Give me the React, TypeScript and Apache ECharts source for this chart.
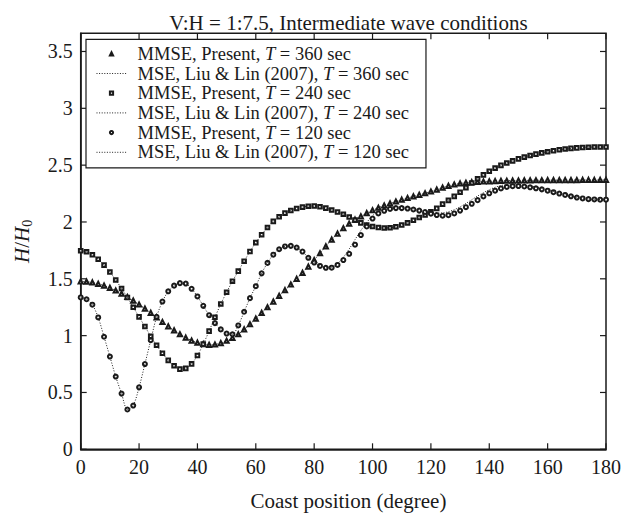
import React, { useEffect, useRef } from 'react';
import * as echarts from 'echarts';

// Coast position (degree) of each sample
const angles = [
  0, 2, 4, 6, 8, 10, 12, 14, 16, 18, 20, 22, 24, 26, 28, 30, 32, 34, 36, 38,
  40, 42, 44, 46, 48, 50, 52, 54, 56, 58, 60, 62, 64, 66, 68, 70, 72, 74, 76, 78,
  80, 82, 84, 86, 88, 90, 92, 94, 96, 98, 100, 102, 104, 106, 108, 110, 112, 114, 116, 118,
  120, 122, 124, 126, 128, 130, 132, 134, 136, 138, 140, 142, 144, 146, 148, 150, 152, 154, 156, 158,
  160, 162, 164, 166, 168, 170, 172, 174, 176, 178, 180,
];

// MMSE, Present, T = 360 sec
const mmse360 = [
  1.477, 1.475, 1.468, 1.456, 1.440, 1.420, 1.397, 1.370, 1.340, 1.308, 1.274, 1.238, 1.200, 1.160, 1.120, 1.082, 1.046, 1.012, 0.982, 0.957,
  0.938, 0.925, 0.919, 0.922, 0.935, 0.955, 0.980, 1.012, 1.055, 1.100, 1.150, 1.200, 1.250, 1.300, 1.350, 1.400, 1.450, 1.500, 1.552, 1.608,
  1.665, 1.725, 1.785, 1.845, 1.898, 1.945, 1.985, 2.020, 2.050, 2.078, 2.103, 2.125, 2.145, 2.163, 2.180, 2.196, 2.211, 2.225, 2.239, 2.253,
  2.268, 2.285, 2.302, 2.318, 2.330, 2.339, 2.345, 2.350, 2.353, 2.356, 2.358, 2.360, 2.362, 2.363, 2.364, 2.365, 2.366, 2.366, 2.367, 2.367,
  2.368, 2.368, 2.368, 2.369, 2.369, 2.369, 2.370, 2.370, 2.370, 2.370, 2.370,
];

// MMSE, Present, T = 240 sec
const mmse240 = [
  1.747, 1.738, 1.712, 1.672, 1.620, 1.560, 1.490, 1.415, 1.335, 1.250, 1.165, 1.080, 0.995, 0.915, 0.845, 0.782, 0.735, 0.705, 0.712, 0.752,
  0.825, 0.925, 1.040, 1.162, 1.278, 1.382, 1.478, 1.568, 1.655, 1.740, 1.818, 1.888, 1.952, 2.005, 2.046, 2.078, 2.101, 2.118, 2.131, 2.139,
  2.140, 2.134, 2.122, 2.106, 2.088, 2.068, 2.044, 2.016, 1.992, 1.973, 1.960, 1.951, 1.947, 1.949, 1.958, 1.973, 1.992, 2.015, 2.040, 2.062,
  2.090, 2.120, 2.157, 2.190, 2.225, 2.262, 2.302, 2.343, 2.380, 2.414, 2.446, 2.474, 2.498, 2.519, 2.538, 2.555, 2.571, 2.585, 2.597, 2.608,
  2.618, 2.627, 2.635, 2.642, 2.648, 2.652, 2.655, 2.658, 2.659, 2.660, 2.660,
];

// MMSE, Present, T = 120 sec
const mmse120 = [
  1.336, 1.320, 1.272, 1.160, 0.990, 0.816, 0.640, 0.490, 0.350, 0.385, 0.545, 0.750, 0.960, 1.165, 1.300, 1.390, 1.440, 1.462, 1.458, 1.412,
  1.345, 1.262, 1.180, 1.110, 1.055, 1.018, 1.012, 1.090, 1.210, 1.330, 1.435, 1.548, 1.640, 1.712, 1.760, 1.785, 1.790, 1.775, 1.740, 1.685,
  1.643, 1.613, 1.597, 1.598, 1.622, 1.665, 1.720, 1.800, 1.885, 1.960, 2.030, 2.075, 2.098, 2.115, 2.122, 2.122, 2.118, 2.110, 2.100, 2.088,
  2.073, 2.061, 2.055, 2.060, 2.075, 2.100, 2.130, 2.160, 2.192, 2.225, 2.252, 2.275, 2.295, 2.308, 2.315, 2.316, 2.312, 2.305, 2.296, 2.287,
  2.275, 2.262, 2.250, 2.238, 2.226, 2.215, 2.207, 2.201, 2.198, 2.196, 2.196,
];

// MSE, Liu & Lin (2007): coincides with MMSE for T = 360 and 240 sec
const mse360 = mmse360;
const mse240 = mmse240;
// MSE, Liu & Lin (2007), T = 120 sec
const mse120 = [
  1.336, 1.320, 1.272, 1.160, 0.990, 0.816, 0.640, 0.490, 0.350, 0.385, 0.545, 0.750, 0.960, 1.165, 1.300, 1.390, 1.440, 1.462, 1.458, 1.412,
  1.345, 1.262, 1.180, 1.110, 1.055, 1.018, 1.012, 1.090, 1.210, 1.330, 1.435, 1.548, 1.640, 1.712, 1.760, 1.785, 1.790, 1.775, 1.740, 1.685,
  1.643, 1.613, 1.597, 1.600, 1.635, 1.690, 1.762, 1.845, 1.925, 1.995, 2.055, 2.095, 2.115, 2.128, 2.133, 2.131, 2.125, 2.116, 2.106, 2.095,
  2.085, 2.079, 2.080, 2.090, 2.108, 2.133, 2.163, 2.196, 2.228, 2.258, 2.284, 2.305, 2.320, 2.330, 2.334, 2.333, 2.327, 2.318, 2.307, 2.295,
  2.282, 2.268, 2.255, 2.242, 2.229, 2.217, 2.208, 2.202, 2.199, 2.197, 2.196,
];

const seriesNames = [
  'MMSE, Present, T = 360 sec',
  'MSE, Liu & Lin (2007), T = 360 sec',
  'MMSE, Present, T = 240 sec',
  'MSE, Liu & Lin (2007), T = 240 sec',
  'MMSE, Present, T = 120 sec',
  'MSE, Liu & Lin (2007), T = 120 sec',
];

const xRange = { min: 0, max: 180, interval: 20 };
const yRange = { min: 0, max: 3.66, interval: 0.5 };
const xTickValues = [0, 20, 40, 60, 80, 100, 120, 140, 160, 180];
const yTickValues = [0, 0.5, 1, 1.5, 2, 2.5, 3, 3.5];

const titleText = 'V:H = 1:7.5, Intermediate wave conditions';
const xAxisTitle = 'Coast position (degree)';

export default function App() {
  const ref = useRef<HTMLDivElement>(null);

  useEffect(() => {
    if (!ref.current) return;
    const chart = echarts.init(ref.current, null, { renderer: 'svg' });
    const font = 'Liberation Serif, Times New Roman, serif';
    const ink = '#1a1a1a';
    const dotted = [1, 1.6];
    const tickLen = 6;

    const pairs = (ys: number[]) => angles.map((x, i) => [x, ys[i]]);

    const mmse = (name: string, ys: number[], symbol: string, size: number) => ({
      type: 'line',
      name,
      data: pairs(ys),
      symbol,
      symbolSize: size,
      showSymbol: true,
      lineStyle: { width: 0, opacity: 0 },
      itemStyle: { color: ink, borderColor: ink, borderWidth: 1 },
      z: 2,
    });
    const mse = (name: string, ys: number[]) => ({
      type: 'line',
      name,
      data: pairs(ys),
      symbol: 'none',
      smooth: 0.3,
      lineStyle: { width: 1, type: dotted, color: '#222' },
      itemStyle: { color: '#222' },
      z: 3,
    });

    const tickStyle = { stroke: ink, lineWidth: 1.2 };
    const labelStyle = (text: string, align: string, vAlign: string) => ({
      text,
      fill: ink,
      fontFamily: font,
      fontSize: 20,
      align,
      verticalAlign: vAlign,
    });

    // x ticks (bottom + top, inward) with labels under the bottom edge
    const xScale = {
      type: 'custom',
      silent: true,
      z: 5,
      data: xTickValues.map((v) => [v, yRange.min]),
      renderItem: (_p: any, api: any) => {
        const v = api.value(0);
        const b = api.coord([v, yRange.min]);
        const t = api.coord([v, yRange.max]);
        return {
          type: 'group',
          children: [
            { type: 'line', shape: { x1: b[0], y1: b[1], x2: b[0], y2: b[1] - tickLen }, style: tickStyle },
            { type: 'line', shape: { x1: t[0], y1: t[1], x2: t[0], y2: t[1] + tickLen }, style: tickStyle },
            { type: 'text', x: b[0], y: b[1] + 8, style: labelStyle(String(v), 'center', 'top') },
          ],
        };
      },
    };
    // y ticks (left + right, inward) with labels left of the frame
    const yScale = {
      type: 'custom',
      silent: true,
      z: 5,
      data: yTickValues.map((v) => [xRange.min, v]),
      renderItem: (_p: any, api: any) => {
        const v = api.value(1);
        const l = api.coord([xRange.min, v]);
        const r = api.coord([xRange.max, v]);
        return {
          type: 'group',
          children: [
            { type: 'line', shape: { x1: l[0], y1: l[1], x2: l[0] + tickLen, y2: l[1] }, style: tickStyle },
            { type: 'line', shape: { x1: r[0], y1: r[1], x2: r[0] - tickLen, y2: r[1] }, style: tickStyle },
            { type: 'text', x: l[0] - 8, y: l[1], style: labelStyle(String(v), 'right', 'middle') },
          ],
        };
      },
    };

    const axisLine = { show: true, lineStyle: { color: ink, width: 1.5 } };
    const legendText = { fontFamily: font, fontSize: 18.5, color: ink, lineHeight: 18 };

    chart.setOption({
      animation: false,
      backgroundColor: '#fff',
      title: [
        {
          text: titleText,
          left: 343.4,
          textAlign: 'center',
          top: 7,
          textStyle: { fontFamily: font, fontSize: 21, fontWeight: 'normal', color: ink },
        },
        {
          text: xAxisTitle,
          left: 343.4,
          textAlign: 'center',
          top: 485,
          textStyle: { fontFamily: font, fontSize: 21, fontWeight: 'normal', color: ink },
        },
      ],
      grid: {
        left: 80.7, right: 17, top: 33.3, bottom: 66.7,
        show: true, borderColor: ink, borderWidth: 1.5, backgroundColor: 'transparent',
      },
      legend: {
        orient: 'vertical',
        left: 86,
        top: 39.3,
        padding: [5, 17, 6, 10],
        itemWidth: 30,
        itemHeight: 4,
        itemGap: 0.7,
        borderColor: ink,
        borderWidth: 1.2,
        backgroundColor: '#fff',
        selectedMode: false,
        z: 10,
        data: seriesNames.map((n, i) =>
          i % 2 === 0
            ? { name: n, lineStyle: { width: 0, opacity: 0 } }
            : { name: n, itemStyle: { opacity: 0 }, lineStyle: { width: 1, type: dotted, color: '#222' } }
        ),
        formatter: (name: string) => {
          const k = name.indexOf('T =');
          return `{g|}{n|${name.slice(0, k)}}{i|T}{n|${name.slice(k + 1)}}`;
        },
        textStyle: {
          ...legendText,
          rich: {
            g: { width: 6 },
            n: { ...legendText },
            i: { ...legendText, fontStyle: 'italic' },
          },
        },
      },
      xAxis: {
        type: 'value',
        ...xRange,
        axisLine,
        axisTick: { show: false },
        splitLine: { show: false },
        axisLabel: { show: false },
      },
      yAxis: {
        type: 'value',
        ...yRange,
        axisLine,
        axisTick: { show: false },
        splitLine: { show: false },
        axisLabel: { show: false },
        name: '{i|H}{n|/}{i|H}{s|0}',
        nameLocation: 'middle',
        nameGap: 46,
        nameTextStyle: {
          rich: {
            i: { fontFamily: font, fontSize: 21, fontStyle: 'italic', color: ink },
            n: { fontFamily: font, fontSize: 21, color: ink },
            s: { fontFamily: font, fontSize: 14, color: ink, padding: [11, 0, 0, 0] },
          },
        },
      },
      series: [
        xScale,
        yScale,
        mmse(seriesNames[0], mmse360, 'emptyTriangle', 4.2),
        mse(seriesNames[1], mse360),
        mmse(seriesNames[2], mmse240, 'emptyRect', 3.6),
        mse(seriesNames[3], mse240),
        mmse(seriesNames[4], mmse120, 'emptyCircle', 4),
        mse(seriesNames[5], mse120),
      ],
    });

    return () => chart.dispose();
  }, []);

  return (
    <div
      ref={ref}
      style={{ position: 'absolute', left: 0, top: 0, width: 623, height: 516, background: '#fff' }}
    />
  );
}
